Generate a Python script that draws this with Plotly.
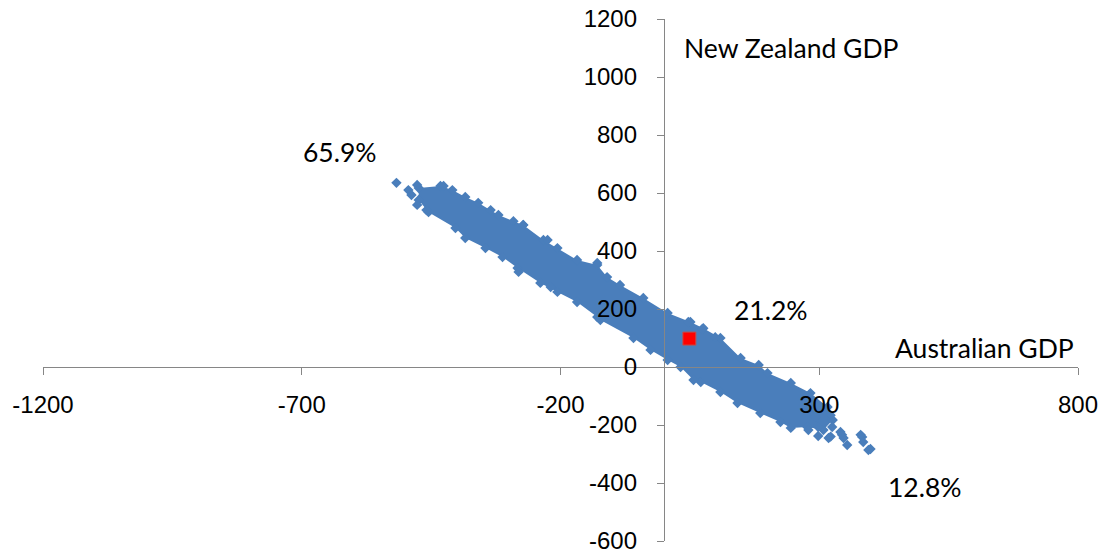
import plotly.graph_objects as go

# ---- data (Australian GDP vs New Zealand GDP) ----
# dense core of the simulated cloud: upper edge (left -> right)
band_upper_x = [-474, -432, -409, -384, -359, -320, -291, -272, -233, -206, -168, -129,
                -110, -85, -40, 7, 51, 76, 109, 148, 183, 200, 245, 283, 316, 326]
band_upper_y = [617, 624, 610, 586, 566, 524, 503, 490, 438, 410, 369, 352,
                310, 283, 238, 186, 155, 134, 100, 31, 7, -21, -55, -90, -138, -183]
# lower edge (right -> left)
band_lower_x = [308, 277, 245, 225, 186, 142, 109, 71, 57, 32, 7, -26, -59, -123,
                -129, -168, -206, -239, -283, -312, -345, -384, -403, -455, -474]
band_lower_y = [-217, -207, -210, -190, -159, -124, -86, -52, -45, 0, 24, 59, 100, 162,
                172, 224, 259, 290, 341, 379, 410, 445, 479, 534, 576]
# scattered outlying simulation points
fringe_x = [-517, -477, -494, -488, -477, -459, -335, -426, -272, -225, -129, -281, -219,
            47, 74, 99, 279, 298, 318, 341, 347, 354, 383, 385, 399, 322, 292, 325, 298,
            322, 380, 344, 395]
fringe_y = [635, 628, 610, 593, 559, 541, 541, 624, 490, 438, 359, 328, 276,
            155, 131, 103, -217, -238, -245, -224, -245, -269, -241, -259, -283, -166, -172, -207, -207,
            -240, -234, -234, -286]
# mean point
mean_x = [49]
mean_y = [98]

# quadrant shares and axis titles
label_text = ["65.9%", "21.2%", "12.8%", "New Zealand GDP", "Australian GDP"]
label_x = [-627, 206, 505, 246, 619]
label_y = [741, 197, -414, 1100, 65]

x_ticks = [-1200, -700, -200, 300, 800]
y_ticks = [-600, -400, -200, 0, 200, 400, 600, 800, 1000, 1200]

BLUE = "#4A7EBB"

fig = go.Figure()

fig.add_trace(go.Scatter(
    x=band_upper_x + band_lower_x,
    y=band_upper_y + band_lower_y,
    mode="lines", fill="toself", fillcolor=BLUE,
    line=dict(width=0, color=BLUE), hoverinfo="skip", showlegend=False,
))
fig.add_trace(go.Scatter(
    x=band_upper_x + band_lower_x + fringe_x,
    y=band_upper_y + band_lower_y + fringe_y,
    mode="markers",
    marker=dict(symbol="diamond", size=8, color=BLUE, line=dict(width=0)),
    showlegend=False,
))
fig.add_trace(go.Scatter(
    x=mean_x, y=mean_y, mode="markers",
    marker=dict(symbol="square", size=13, color="#FF0000",
                line=dict(width=1, color="#C0504D")),
    showlegend=False,
))

for t, x, y in zip(label_text, label_x, label_y):
    fig.add_annotation(x=x, y=y, text=t, showarrow=False, xref="x", yref="y",
                       font=dict(family="Lato, Open Sans, sans-serif", size=26.5, color="#000000"))

axis_common = dict(
    showgrid=False, zeroline=False, showline=True, linecolor="#868686", linewidth=1.3,
    ticks="outside", ticklen=7, tickwidth=1.3, tickcolor="#868686", automargin=False,
    ticklabeloverflow="allow",
    tickfont=dict(family="Liberation Sans, Arial, sans-serif", size=24, color="#000000"),
)

fig.update_layout(
    width=1109, height=553,
    margin=dict(l=43, r=31, t=19, b=12),
    paper_bgcolor="white", plot_bgcolor="white",
    xaxis=dict(range=[-1200, 800], tickvals=x_ticks, ticktext=[str(v) for v in x_ticks],
               anchor="free", position=600 / 1800, side="bottom",
               ticklabelstandoff=9, **axis_common),
    yaxis=dict(range=[-600, 1200], tickvals=y_ticks, ticktext=[str(v) for v in y_ticks],
               anchor="free", position=0.6, side="left",
               ticklabelstandoff=15, **axis_common),
)

# remove the default page margin so the figure fills the window exactly
fig.write_html("out.html", config={"displayModeBar": False},
               post_script="document.body.style.margin='0';document.body.style.overflow='hidden';")
